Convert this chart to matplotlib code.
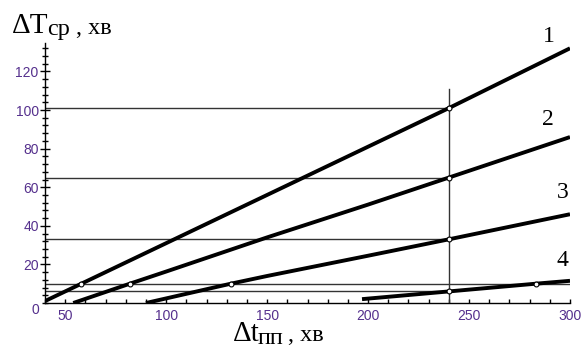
import numpy as np
import matplotlib
matplotlib.use('Agg')
import matplotlib.pyplot as plt
from matplotlib.ticker import MultipleLocator

# дані
line1_x = [40, 58, 100, 150, 200, 240, 300]
line1_y = [1, 10, 31, 56, 81, 101, 132]
line2_x = [54, 82, 100, 150, 200, 240, 300]
line2_y = [0, 10, 16.3, 34, 51, 65, 86]
line3_x = [90, 132, 150, 200, 240, 300]
line3_y = [0, 10, 14, 24.5, 33, 46]
line4_x = [197, 240, 283, 300]
line4_y = [2, 6, 10, 11.5]

# опорні лінії та точки
h_levels = [101, 65, 33, 6]
h_level_long = 10
v_level = 240
v_top = 111
pts_x = [58, 82, 132, 240, 240, 240, 240, 283]
pts_y = [10, 10, 10, 101, 65, 33, 6, 10]

curve_labels = ["1", "2", "3", "4"]
label_x = [289.5, 289, 296.5, 296.5]
label_y = [138, 95, 57.5, 22]

W, H = 582, 349
fig = plt.figure(figsize=(W / 100, H / 100), dpi=100)
ax = fig.add_axes([45 / W, 1 - 303 / H, 525 / W, (303 - 42.5) / H])

tick_color = '#55308d'
ref_color = '#333333'

for lv in h_levels:
    ax.plot([40, v_level], [lv, lv], color=ref_color, lw=1)
ax.plot([40, 300], [h_level_long, h_level_long], color=ref_color, lw=1)
ax.plot([v_level, v_level], [0, v_top], color=ref_color, lw=1)

for xs, ys in [(line1_x, line1_y), (line2_x, line2_y), (line3_x, line3_y), (line4_x, line4_y)]:
    ax.plot(xs, ys, color='black', lw=2.8, solid_capstyle='butt')

ax.plot(pts_x, pts_y, 'o', ms=3.5, mfc='white', mec='black', mew=0.8, zorder=5)

for s, lx, ly in zip(curve_labels, label_x, label_y):
    ax.text(lx, ly, s, fontsize=17, family='Liberation Serif', ha='center', va='center',
            clip_on=False)

ax.set_xlim(40, 300)
ax.set_ylim(0, 135)
for sp in ['top', 'right']:
    ax.spines[sp].set_visible(False)
ax.spines['left'].set_linewidth(1)
ax.spines['bottom'].set_linewidth(1)

ax.xaxis.set_minor_locator(MultipleLocator(10))
ax.yaxis.set_minor_locator(MultipleLocator(4))
ax.set_xticks([50, 100, 150, 200, 250, 300])
ax.set_yticks([20, 40, 60, 80, 100, 120])
ax.tick_params(axis='x', which='both', direction='in', length=3, width=1, pad=4)
ax.tick_params(axis='y', which='major', direction='inout', length=7, width=1, pad=1)
ax.tick_params(axis='y', which='minor', direction='inout', length=4.5, width=1)
for lab in ax.get_xticklabels() + ax.get_yticklabels():
    lab.set_fontsize(10)
    lab.set_family('Liberation Sans')
    lab.set_color(tick_color)

fig.text(35 / W, 1 - 310 / H, "0", fontsize=10, family='Liberation Sans',
         color=tick_color, ha='center', va='center')

# підписи осей
fig.text(12 / W, 1 - 33 / H, "ΔT", fontsize=21, family='Liberation Serif', va='baseline')
fig.text(47 / W, 1 - 35 / H, "ср", fontsize=17.5, family='Liberation Serif', va='baseline')
fig.text(76 / W, 1 - 34 / H, ", хв", fontsize=17.5, family='Liberation Serif', va='baseline')

fig.text(233 / W, 1 - 341 / H, "Δt", fontsize=21, family='Liberation Serif', va='baseline')
fig.text(258 / W, 1 - 344 / H, "пп", fontsize=17.5, family='Liberation Serif', va='baseline')
fig.text(288 / W, 1 - 341 / H, ", хв", fontsize=17.5, family='Liberation Serif', va='baseline')

fig.savefig('out.png', dpi=100)
